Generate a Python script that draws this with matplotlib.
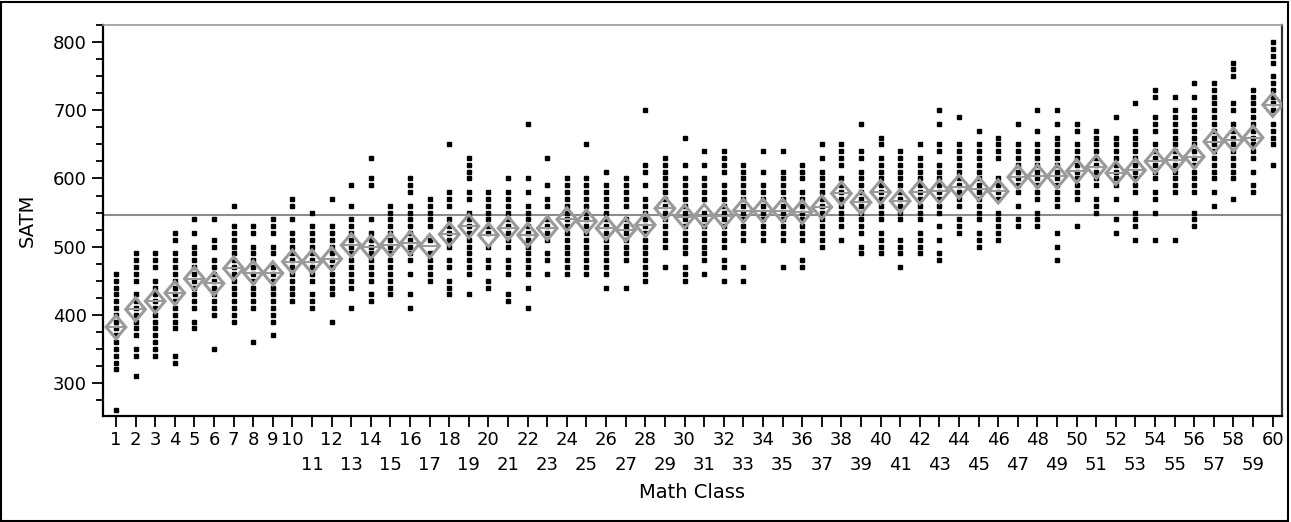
import matplotlib.pyplot as plt
from matplotlib.patches import Polygon, Rectangle

# class numbers 1..60
math_class = list(range(1, 61))

# SATM scores seen in each class (one value per visible dot level)
satm_by_class = [
    [460, 450, 440, 430, 420, 410, 400, 390, 380, 370, 360, 350, 340, 330, 320, 260],
    [490, 480, 470, 460, 450, 430, 420, 410, 400, 390, 380, 370, 350, 340, 310],
    [490, 480, 470, 450, 440, 430, 420, 410, 400, 390, 380, 370, 360, 350, 340],
    [520, 510, 490, 480, 470, 460, 450, 440, 430, 420, 410, 400, 390, 380, 340, 330],
    [540, 520, 500, 490, 480, 470, 460, 450, 440, 430, 420, 410, 390, 380],
    [540, 510, 500, 480, 470, 460, 450, 440, 430, 420, 410, 400, 350],
    [560, 530, 520, 510, 500, 490, 480, 470, 460, 450, 440, 430, 420, 410, 400, 390],
    [530, 520, 500, 490, 480, 470, 460, 450, 440, 430, 420, 410, 360],
    [540, 530, 520, 500, 490, 470, 460, 450, 440, 430, 420, 410, 400, 390, 370],
    [570, 560, 540, 520, 510, 500, 490, 480, 470, 460, 450, 440, 430, 420],
    [550, 530, 520, 510, 500, 490, 480, 470, 460, 450, 430, 420, 410],
    [570, 530, 520, 510, 500, 490, 480, 470, 460, 450, 440, 430, 390],
    [590, 560, 540, 530, 520, 510, 500, 490, 480, 470, 460, 450, 440, 410],
    [630, 600, 590, 540, 520, 510, 500, 490, 480, 470, 460, 450, 430, 420],
    [560, 550, 540, 530, 520, 510, 500, 490, 480, 470, 460, 450, 440, 430],
    [600, 590, 580, 560, 550, 540, 530, 520, 510, 500, 490, 480, 460, 430, 410],
    [570, 560, 550, 540, 530, 510, 490, 480, 470, 460, 450],
    [650, 580, 570, 560, 540, 530, 520, 510, 500, 480, 470, 450, 440, 430],
    [630, 620, 610, 600, 580, 570, 550, 540, 530, 520, 510, 500, 490, 480, 470, 460, 430],
    [580, 570, 560, 550, 540, 530, 520, 500, 480, 470, 450, 440],
    [600, 580, 570, 560, 550, 540, 530, 520, 510, 500, 480, 470, 460, 430, 420],
    [680, 600, 580, 560, 550, 540, 530, 520, 510, 500, 490, 480, 470, 460, 440, 410],
    [630, 590, 570, 560, 540, 530, 520, 510, 490, 480, 460],
    [600, 590, 580, 570, 560, 550, 540, 530, 520, 510, 500, 490, 480, 470, 460],
    [650, 600, 590, 580, 570, 560, 550, 540, 530, 520, 510, 500, 490, 480, 470, 460],
    [610, 590, 580, 570, 560, 550, 540, 530, 520, 510, 500, 490, 480, 470, 460, 440],
    [600, 590, 580, 570, 560, 540, 530, 520, 510, 500, 490, 480, 440],
    [700, 620, 610, 590, 570, 560, 550, 540, 530, 520, 510, 500, 490, 480, 470, 460, 450],
    [630, 620, 610, 600, 590, 580, 570, 560, 550, 540, 530, 520, 510, 500, 470],
    [660, 620, 600, 590, 580, 570, 560, 550, 540, 530, 520, 510, 500, 490, 470, 460, 450],
    [640, 620, 600, 590, 580, 570, 550, 540, 530, 520, 510, 500, 490, 480, 460],
    [640, 630, 620, 610, 590, 580, 570, 560, 550, 540, 530, 520, 510, 500, 480, 470, 450],
    [620, 610, 600, 590, 580, 570, 560, 550, 540, 530, 520, 510, 470, 450],
    [640, 610, 590, 580, 570, 560, 550, 540, 530, 520, 510],
    [640, 610, 600, 590, 580, 570, 560, 550, 540, 530, 520, 510, 470],
    [620, 610, 600, 580, 570, 560, 550, 540, 530, 520, 510, 480, 470],
    [650, 630, 610, 600, 590, 580, 570, 560, 550, 540, 530, 520, 510, 500],
    [650, 640, 630, 620, 600, 590, 580, 570, 560, 550, 540, 530, 510],
    [680, 640, 630, 610, 600, 590, 580, 570, 560, 550, 540, 530, 520, 500, 490],
    [660, 650, 630, 620, 610, 600, 590, 580, 570, 560, 550, 540, 520, 510, 500, 490],
    [640, 630, 620, 610, 600, 590, 580, 570, 560, 550, 540, 510, 500, 490, 470],
    [650, 630, 620, 610, 600, 590, 580, 570, 560, 550, 540, 520, 510, 500, 490],
    [700, 680, 650, 640, 620, 610, 600, 590, 580, 570, 560, 550, 530, 510, 490, 480],
    [690, 650, 640, 630, 620, 610, 600, 590, 580, 570, 560, 540, 530, 520],
    [670, 650, 640, 630, 620, 610, 600, 590, 580, 570, 560, 550, 540, 520, 510, 500],
    [660, 650, 640, 630, 600, 590, 580, 570, 550, 540, 530, 520, 510],
    [680, 650, 640, 630, 620, 610, 600, 590, 580, 560, 540, 530],
    [700, 670, 650, 640, 630, 620, 610, 600, 590, 580, 570, 550, 540, 530],
    [700, 680, 660, 650, 640, 630, 620, 610, 600, 590, 580, 570, 560, 520, 500, 480],
    [680, 670, 650, 640, 630, 620, 610, 600, 590, 580, 570, 530],
    [670, 660, 650, 640, 630, 620, 610, 600, 590, 570, 560, 550],
    [690, 660, 650, 640, 630, 620, 610, 600, 590, 570, 540, 520],
    [710, 670, 660, 650, 640, 630, 620, 610, 600, 590, 580, 550, 540, 530, 510],
    [730, 720, 690, 680, 670, 650, 640, 630, 620, 610, 600, 580, 570, 550, 510],
    [720, 700, 690, 680, 670, 660, 650, 640, 630, 620, 610, 600, 590, 580, 510],
    [740, 720, 700, 690, 680, 670, 660, 650, 640, 630, 620, 610, 600, 590, 580, 550, 540, 530],
    [740, 730, 720, 710, 700, 690, 680, 670, 660, 650, 640, 630, 620, 610, 600, 580, 560],
    [770, 760, 750, 710, 700, 680, 670, 660, 650, 640, 630, 620, 610, 600, 570],
    [730, 720, 710, 700, 690, 680, 670, 660, 650, 640, 630, 610, 590, 580],
    [800, 790, 780, 770, 750, 740, 730, 720, 710, 700, 680, 670, 660, 650, 620],
]

# class means (centre of the means diamonds)
class_means = [382, 408, 420, 432, 453, 446, 468, 462, 461, 478,
               478, 482, 502, 499, 503, 505, 501, 518, 530, 517,
               527, 517, 527, 540, 537, 527, 525, 532, 556, 544,
               545, 545, 553, 553, 553, 551, 558, 578, 565, 580,
               567, 580, 581, 588, 585, 581, 602, 603, 603, 611,
               617, 608, 612, 625, 627, 632, 654, 657, 660, 708]

grand_mean = 547
y_ticks = [300, 400, 500, 600, 700, 800]

# tick labels sit on two rows: 1-9 and even classes on top, odd 11-59 below
top_row = [c for c in math_class if c < 10 or c % 2 == 0]
low_row = [c for c in math_class if c >= 10 and c % 2 == 1]

fig = plt.figure(figsize=(12.91, 5.22), dpi=100)
ax = fig.add_axes([0.0798, 0.203, 0.913, 0.749])

# raw points
for c, vals in zip(math_class, satm_by_class):
    ax.plot([c] * len(vals), vals, linestyle="none", marker="s",
            markersize=2.6, color="black", zorder=2)

# grand mean line
ax.axhline(grand_mean, color="#8c8c8c", linewidth=1.5, zorder=1)

# means diamonds
half_w = 0.5
half_h = 17
for c, m in zip(math_class, class_means):
    d = Polygon([[c - half_w, m], [c, m + half_h], [c + half_w, m], [c, m - half_h]],
                closed=True, fill=False, edgecolor="#9a9a9a", linewidth=2.2, zorder=3)
    ax.add_patch(d)
    ax.plot([c - half_w, c + half_w], [m, m], color="#9a9a9a", linewidth=1.5, zorder=3)

ax.set_xlim(0.34, 60.46)
ax.set_ylim(251.6, 825)

ax.set_yticks(y_ticks)
ax.set_yticks(range(275, 826, 25), minor=True)
ax.tick_params(axis="y", which="major", length=8, width=1.3, labelsize=13)
ax.tick_params(axis="y", which="minor", length=5, width=1.3)

ax.set_xticks(top_row)
ax.set_xticklabels([str(c) for c in top_row], fontsize=13)
ax.set_xticks(low_row, minor=True)
ax.set_xticklabels([str(c) for c in low_row], minor=True, fontsize=13)
ax.tick_params(axis="x", which="major", length=8, width=1.3, pad=3)
ax.tick_params(axis="x", which="minor", length=8, width=1.3, pad=21)

ax.set_xlabel("Math Class", fontsize=14, labelpad=6)
ax.set_ylabel("SATM", fontsize=14, labelpad=12)

for side in ["left", "bottom"]:
    ax.spines[side].set_linewidth(1.6)
ax.spines["right"].set_color("#333333")
ax.spines["right"].set_linewidth(1.6)
ax.spines["top"].set_color("#999999")
ax.spines["top"].set_linewidth(1.2)

# outer border of the figure
fig.patches.append(Rectangle((0.001, 0.002), 0.997, 0.995, transform=fig.transFigure,
                             fill=False, edgecolor="black", linewidth=1.5))

plt.savefig("out.png", dpi=100)
plt.close()
